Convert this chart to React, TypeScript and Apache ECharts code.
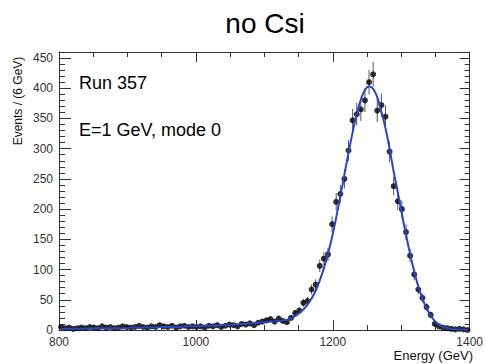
import React, { useEffect, useRef } from "react";
import * as echarts from "echarts";

// Histogram binning: 100 bins of 6 GeV between 800 and 1400 GeV
const binLow = 800;
const binWidth = 6;

// Events per bin
const counts = [
  5, 3, 4, 2, 3, 4, 3, 5, 4, 3, 6, 4, 5, 3, 4, 6, 5,
  4, 5, 7, 5, 4, 6, 5, 8, 6, 5, 7, 4, 6, 7, 5, 6,
  5, 6, 4, 7, 6, 8, 5, 7, 9, 8, 6, 10, 9, 11, 8, 12, 14,
  16, 18, 14, 19, 15, 13, 20, 28, 32, 45, 48, 67, 75, 106,
  118, 125, 175, 212, 225, 250, 297, 347, 357, 365, 380, 410, 423, 363, 372, 353,
  295, 238, 213, 200, 162, 123, 92, 67, 53, 38, 25, 10, 6, 4, 3, 2, 1, 2, 1, 0,
];

// Fitted curve evaluated at the bin centres
const fitValues = [
  2, 2, 2, 2, 2, 2, 2, 3, 3, 3, 3, 3, 3, 3, 3, 3, 3,
  4, 4, 4, 4, 4, 4, 4, 5, 5, 5, 5, 5, 5, 6, 6, 6,
  6, 6, 7, 7, 7, 7, 8, 8, 8, 9, 9, 10, 10, 11, 11, 12, 13,
  13, 14, 14, 15, 16, 17, 19, 23, 28, 34, 42, 52, 65, 82,
  102, 126, 154, 186, 221, 257, 293, 327, 357, 381, 397, 403, 399, 385, 361, 334,
  300, 262, 228, 192, 158, 126, 97, 72, 52, 36, 24, 15, 9, 5, 3, 2, 1, 1, 1, 0,
];

const xTicks = [800, 1000, 1200, 1400];
const yTicks = [0, 50, 100, 150, 200, 250, 300, 350, 400, 450];

const FONT = "'Liberation Sans', Arial, Helvetica, sans-serif";
const FIT_BLUE = "#2a45c4";
const FRAME = "#333";

export default function App() {
  const ref = useRef<HTMLDivElement>(null);

  useEffect(() => {
    if (!ref.current) return;
    const chart = echarts.init(ref.current, null, { renderer: "svg" });

    const centers = counts.map((_, i) => binLow + binWidth * (i + 0.5));
    const points = counts.map((c, i) => [centers[i], c]);
    const errors = counts.map((c, i) => [centers[i], c - Math.sqrt(c), c + Math.sqrt(c)]);
    const fit = fitValues.map((v, i) => [centers[i], v]);

    const xBase = {
      type: "value",
      min: xTicks[0],
      max: xTicks[xTicks.length - 1],
      interval: xTicks[1] - xTicks[0],
      axisLine: { show: true, onZero: false, lineStyle: { color: FRAME, width: 1 } },
      splitLine: { show: false },
      minorSplitLine: { show: false },
    };
    const yBase = {
      type: "value",
      min: yTicks[0],
      max: 460,
      interval: yTicks[1] - yTicks[0],
      axisLine: { show: true, onZero: false, lineStyle: { color: FRAME, width: 1 } },
      splitLine: { show: false },
      minorSplitLine: { show: false },
    };

    chart.setOption({
      animation: false,
      backgroundColor: "#fff",
      grid: { left: 59, right: 14, top: 52, bottom: 34 },
      xAxis: [
        {
          ...xBase,
          position: "bottom",
          axisTick: { show: true, inside: true, length: 10, lineStyle: { color: FRAME } },
          minorTick: { show: true, splitNumber: 4, length: 5, lineStyle: { color: FRAME } },
          axisLabel: {
            color: "#333",
            fontSize: 12,
            fontFamily: FONT,
            margin: 6,
            formatter: (v: number) => String(v),
          },
        },
        {
          ...xBase,
          position: "top",
          axisTick: { show: true, inside: true, length: 10, lineStyle: { color: FRAME } },
          minorTick: { show: true, splitNumber: 4, length: 5, lineStyle: { color: FRAME } },
          axisLabel: { show: false },
        },
      ],
      yAxis: [
        {
          ...yBase,
          position: "left",
          axisTick: { show: true, inside: true, length: 12, lineStyle: { color: FRAME } },
          minorTick: { show: true, splitNumber: 5, length: 6, lineStyle: { color: FRAME } },
          axisLabel: {
            color: "#333",
            fontSize: 12,
            fontFamily: FONT,
            margin: 6,
            showMaxLabel: false,
            formatter: (v: number) => String(v),
          },
        },
        {
          ...yBase,
          position: "right",
          axisTick: { show: true, inside: true, length: 10, lineStyle: { color: FRAME } },
          minorTick: { show: true, splitNumber: 5, length: 5, lineStyle: { color: FRAME } },
          axisLabel: { show: false },
        },
      ],
      series: [
        {
          type: "custom",
          xAxisIndex: 0,
          yAxisIndex: 0,
          data: errors,
          renderItem: (params: any, api: any) => {
            const x = api.value(0);
            const lo = api.coord([x, api.value(1)]);
            const hi = api.coord([x, api.value(2)]);
            return {
              type: "line",
              shape: { x1: lo[0], y1: lo[1], x2: hi[0], y2: hi[1] },
              style: { stroke: "#555", lineWidth: 1 },
            };
          },
          z: 2,
        },
        {
          type: "scatter",
          xAxisIndex: 0,
          yAxisIndex: 0,
          data: points,
          symbol: "circle",
          symbolSize: 6,
          itemStyle: { color: "#000" },
          z: 3,
        },
        {
          type: "line",
          xAxisIndex: 0,
          yAxisIndex: 0,
          data: fit,
          smooth: true,
          showSymbol: false,
          lineStyle: { color: FIT_BLUE, width: 2 },
          z: 4,
        },
      ],
      graphic: [
        {
          type: "text",
          x: 265,
          y: 23,
          style: {
            text: "no Csi",
            fill: "#000",
            font: `28px ${FONT}`,
            textAlign: "center",
            textVerticalAlign: "middle",
          },
        },
        {
          type: "text",
          x: 79,
          y: 83,
          style: {
            text: "Run 357",
            fill: "#000",
            font: `18px ${FONT}`,
            textAlign: "left",
            textVerticalAlign: "middle",
          },
        },
        {
          type: "text",
          x: 79,
          y: 130,
          style: {
            text: "E=1 GeV, mode 0",
            fill: "#000",
            font: `18px ${FONT}`,
            textAlign: "left",
            textVerticalAlign: "middle",
          },
        },
        {
          type: "text",
          x: 18,
          y: 101,
          rotation: Math.PI / 2,
          style: {
            text: "Events / (6 GeV)",
            fill: "#111",
            font: `12px ${FONT}`,
            textAlign: "center",
            textVerticalAlign: "middle",
          },
        },
        {
          type: "text",
          x: 473,
          y: 355,
          style: {
            text: "Energy (GeV)",
            fill: "#111",
            font: `13px ${FONT}`,
            textAlign: "right",
            textVerticalAlign: "middle",
          },
        },
      ],
    });

    return () => chart.dispose();
  }, []);

  return (
    <div
      ref={ref}
      style={{ position: "absolute", left: 0, top: 0, width: 486, height: 364, background: "#fff" }}
    />
  );
}
